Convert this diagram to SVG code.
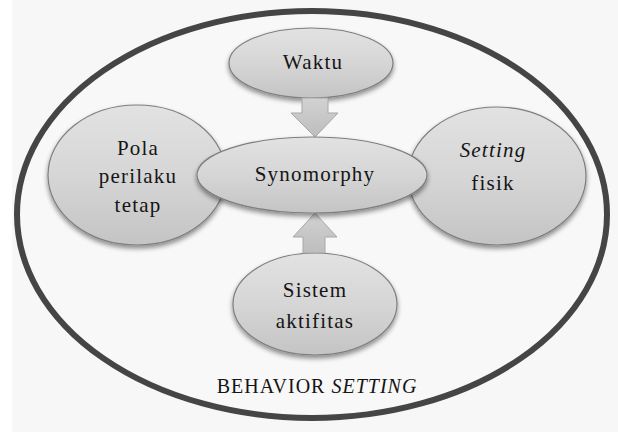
<svg xmlns="http://www.w3.org/2000/svg" width="618" height="432" viewBox="0 0 618 432">
<defs>
<linearGradient id="g" x1="0" y1="0" x2="0" y2="1">
<stop offset="0" stop-color="#e2e2e2"/>
<stop offset="0.5" stop-color="#d6d6d6"/>
<stop offset="1" stop-color="#c4c4c4"/>
</linearGradient>
<linearGradient id="ga" x1="0" y1="0" x2="0" y2="1">
<stop offset="0" stop-color="#d2d2d2"/>
<stop offset="1" stop-color="#bdbdbd"/>
</linearGradient>
<filter id="sh" x="-20%" y="-20%" width="140%" height="150%">
<feGaussianBlur in="SourceAlpha" stdDeviation="2.5"/>
<feOffset dx="0" dy="3" result="b"/>
<feComponentTransfer><feFuncA type="linear" slope="0.45"/></feComponentTransfer>
<feMerge><feMergeNode/><feMergeNode in="SourceGraphic"/></feMerge>
</filter>
</defs>
<style>
.node{fill:url(#g);stroke:#7e7e7e;stroke-width:1.2;filter:url(#sh)}
.arrow{fill:url(#ga);stroke:#a8a8a8;stroke-width:1}
text{font-family:'Liberation Serif','Times New Roman',serif;font-size:21px;fill:#151515;text-anchor:middle;letter-spacing:1.2px}
.it{font-style:italic}
</style>
<rect x="0" y="0" width="618" height="432" fill="#f7f7f7"/>
<rect x="0" y="0" width="12" height="432" fill="#ffffff"/>
<g id="behavior-setting">
<ellipse cx="312" cy="214.5" rx="295" ry="203.5" fill="#f8f8f8" stroke="#454545" stroke-width="6"/>
<text x="317" y="393" style="font-size:20px;letter-spacing:1px">BEHAVIOR <tspan class="it">SETTING</tspan></text>
</g>
<g id="pola">
<ellipse class="node" cx="137" cy="175" rx="89" ry="70"/>
<text x="138" y="155">Pola</text>
<text x="138" y="183">perilaku</text>
<text x="138" y="212">tetap</text>
</g>
<g id="setting-fisik">
<ellipse class="node" cx="497" cy="176" rx="89" ry="69"/>
<text class="it" x="493" y="157">Setting</text>
<text x="493" y="190">fisik</text>
</g>
<g id="waktu">
<ellipse class="node" cx="311" cy="63" rx="82" ry="35"/>
<text x="313" y="69">Waktu</text>
</g>
<g id="sistem">
<ellipse class="node" cx="315" cy="304" rx="82" ry="51"/>
<text x="315" y="297">Sistem</text>
<text x="315" y="328">aktifitas</text>
</g>
<g id="connectors">
<path class="arrow" d="M302,98 L328,98 L328,113 L338,113 L315,137 L291,113 L302,113 Z"/>
<path class="arrow" d="M303,253 L325,253 L325,237 L337,237 L315,213 L293,237 L303,237 Z"/>
</g>
<g id="synomorphy">
<ellipse class="node" cx="312" cy="175" rx="115" ry="38"/>
<text x="315" y="181">Synomorphy</text>
</g>
</svg>
